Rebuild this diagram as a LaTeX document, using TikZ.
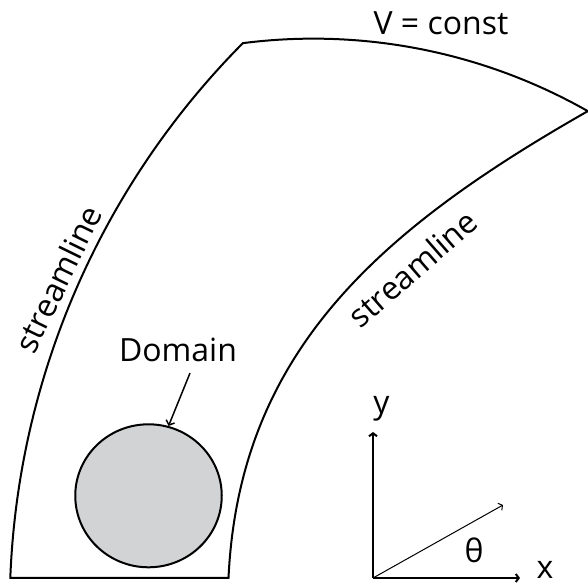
\documentclass[tikz,border=0pt]{standalone}
\usepackage{fontspec}
\setmainfont{Open Sans}
\usetikzlibrary{arrows.meta,shapes.geometric}
\definecolor{dominio}{HTML}{D1D3D4}
\tikzset{
  contorno/.style={line width=2pt, line join=miter},
  rotulo/.style={font=\fontsize{32}{36}\selectfont, inner sep=0pt},
  eixo/.style={-{Straight Barb[length=3pt,width=8pt]}, line width=2pt},
  vetor/.style={-{Straight Barb[length=3pt,width=8pt]}, line width=1pt},
  seta/.style={-{Straight Barb[length=4pt,width=9pt]}, line width=1.5pt},
}

\begin{document}
\begin{tikzpicture}[x=1pt, y=1pt]
  \useasboundingbox (0,0) rectangle (588,585);
  % regiao entre as linhas de corrente
  \coordinate (canto1) at (10.3,7);
  \coordinate (canto2) at (228.5,7);
  \draw[contorno] (canto2) -- (canto1)
    arc[start angle=177.8, end angle=135.2, radius=802.8pt]
    arc[start angle=97.3, end angle=60.4, radius=555.5pt]
    .. controls (378,354.4) and (239,232) .. (canto2) -- cycle;
  \node[rotulo, rotate=64] (linha1) at (58,306) {streamline};
  \node[rotulo, rotate=41] (linha2) at (412.5,316.5) {streamline};
  \node[rotulo] (vconst) at (441,562) {V = const};

  % dominio
  \node[ellipse, draw, line width=2pt, fill=dominio, minimum width=146.5pt,
    minimum height=143pt, inner sep=0pt] (dominio) at (148.5,89.2) {};
  \node[rotulo] (rotdominio) at (178,235) {Domain};
  \draw[seta] ([xshift=12pt,yshift=-11pt]rotdominio.south) -- (dominio.74);

  % eixos
  \coordinate (origem) at (373,7);
  \coordinate (fimx) at (520,7);
  \coordinate (fimy) at (373,153);
  \coordinate (fimt) at (503,80);
  \draw[eixo] (origem) -- (fimx);
  \draw[eixo] (origem) -- (fimy);
  \draw[vetor] (origem) -- (fimt);
  \node[rotulo] (rotx) at (545,15) {x};
  \node[rotulo] (roty) at (381.5,176) {y};
  \node[rotulo] (rotteta) at (474,35) {θ};
\end{tikzpicture}
\end{document}
